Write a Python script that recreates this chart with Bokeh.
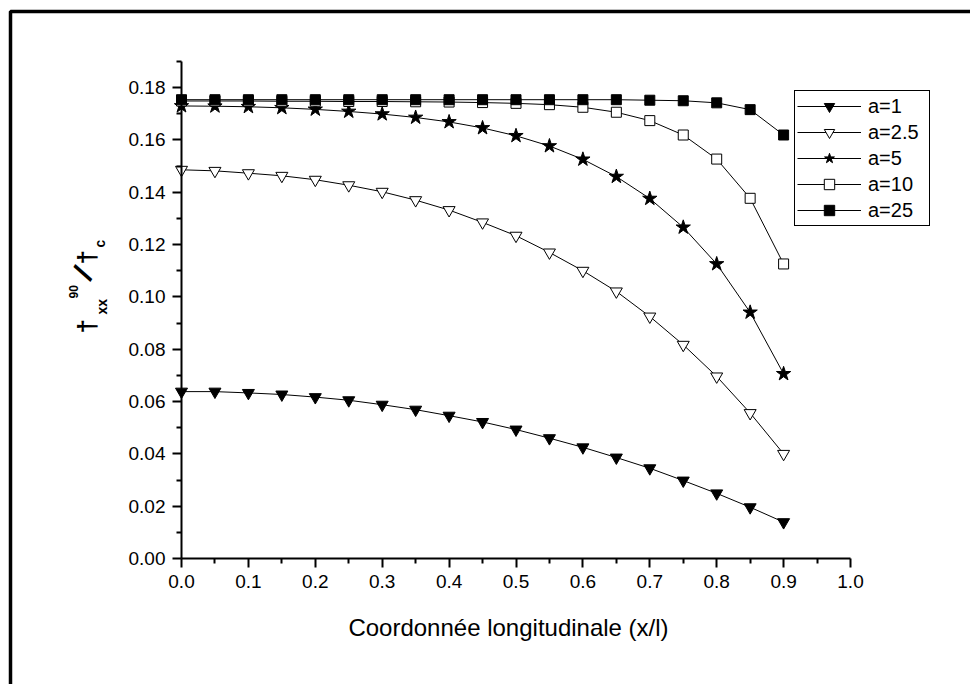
import math
from bokeh.plotting import figure
from bokeh.models import (Range1d, FixedTicker, NumeralTickFormatter, Legend, LegendItem,
                          Label, BoxAnnotation, ColumnDataSource)
from bokeh.embed import file_html
from bokeh.resources import INLINE

# ---------------- data ----------------
x_pos = [0.0, 0.05, 0.1, 0.15, 0.2, 0.25, 0.3, 0.35, 0.4, 0.45,
         0.5, 0.55, 0.6, 0.65, 0.7, 0.75, 0.8, 0.85, 0.9]
a1 = [0.0638, 0.0638, 0.0633, 0.0627, 0.0617, 0.0605, 0.0588, 0.0569, 0.0546, 0.0522,
      0.0493, 0.0460, 0.0425, 0.0386, 0.0345, 0.0298, 0.0249, 0.0196, 0.0139]
a2_5 = [0.1486, 0.1482, 0.1473, 0.1463, 0.1448, 0.1427, 0.1402, 0.1370, 0.1332, 0.1285,
        0.1234, 0.1170, 0.1100, 0.1021, 0.0925, 0.0817, 0.0696, 0.0556, 0.0400]
a5 = [0.1730, 0.1729, 0.1727, 0.1723, 0.1717, 0.1709, 0.1699, 0.1686, 0.1669, 0.1646,
      0.1616, 0.1577, 0.1526, 0.1460, 0.1376, 0.1266, 0.1126, 0.0941, 0.0706]
a10 = [0.1749, 0.1749, 0.1749, 0.1748, 0.1748, 0.1747, 0.1747, 0.1746, 0.1745, 0.1743,
       0.1740, 0.1735, 0.1725, 0.1706, 0.1674, 0.1619, 0.1527, 0.1377, 0.1126]
a25 = [0.1754, 0.1754, 0.1754, 0.1754, 0.1754, 0.1754, 0.1754, 0.1754, 0.1754, 0.1754,
       0.1754, 0.1754, 0.1754, 0.1754, 0.1752, 0.1750, 0.1742, 0.1716, 0.1619]
series_labels = ["a=1", "a=2.5", "a=5", "a=10", "a=25"]
x_ticks = [0.0, 0.1, 0.2, 0.3, 0.4, 0.5, 0.6, 0.7, 0.8, 0.9, 1.0]
x_minor = [0.05, 0.15, 0.25, 0.35, 0.45, 0.55, 0.65, 0.75, 0.85, 0.95]
y_ticks = [0.00, 0.02, 0.04, 0.06, 0.08, 0.10, 0.12, 0.14, 0.16, 0.18]
y_minor = [0.01, 0.03, 0.05, 0.07, 0.09, 0.11, 0.13, 0.15, 0.17, 0.19]
x_title = "Coordonnée longitudinale (x/l)"

FONT = "Liberation Sans"
W, H = 970, 684
# pixel placement of the axes inside the canvas
AX_L, AX_R, AX_B, AX_T = 181, 850, 558, 61
X0, X1 = 0.0, 1.0
Y0, Y1 = 0.0, 0.19
kx = (X1 - X0) / (AX_R - AX_L)
ky = (Y1 - Y0) / (AX_B - AX_T)
x_range = Range1d(X0 - AX_L * kx, X1 + (W - AX_R) * kx)
y_range = Range1d(Y0 - (H - AX_B) * ky, Y1 + AX_T * ky)

p = figure(width=W, height=H, output_backend="svg", toolbar_location=None,
           x_range=x_range, y_range=y_range, min_border=0)
p.outline_line_color = None
p.grid.visible = False
p.background_fill_color = "white"
p.border_fill_color = "white"

for ax in (p.xaxis[0], p.yaxis[0]):
    ax.fixed_location = 0
    ax.axis_line_width = 2
    ax.axis_line_color = "black"
    ax.major_tick_line_color = "black"
    ax.minor_tick_line_color = "black"
    ax.major_tick_line_width = 2
    ax.minor_tick_line_width = 2
    ax.major_tick_in = 0
    ax.major_tick_out = 9
    ax.minor_tick_in = 0
    ax.minor_tick_out = 5
    ax.major_label_text_font = FONT
    ax.major_label_text_font_size = "19px"
    ax.major_label_text_color = "black"
    ax.major_label_standoff = 7

p.xaxis[0].bounds = (X0, X1)
p.yaxis[0].bounds = (Y0, Y1)
p.xaxis[0].ticker = FixedTicker(ticks=x_ticks, minor_ticks=x_minor)
p.xaxis[0].formatter = NumeralTickFormatter(format="0.0")
p.yaxis[0].ticker = FixedTicker(ticks=y_ticks, minor_ticks=y_minor)
p.yaxis[0].formatter = NumeralTickFormatter(format="0.00")

src = ColumnDataSource(dict(x=x_pos, a1=a1, a2_5=a2_5, a5=a5, a10=a10, a25=a25))
specs = [
    ("a1", "inverted_triangle", "black", 12),
    ("a2_5", "inverted_triangle", "white", 12),
    ("a5", "star", "black", 15),
    ("a10", "square", "white", 10),
    ("a25", "square", "black", 10),
]
items = []
for (col, mk, fill, sz), lab in zip(specs, series_labels):
    ln = p.line("x", col, source=src, line_color="black", line_width=1)
    sc = p.scatter("x", col, source=src, marker=mk, size=sz, fill_color=fill,
                   line_color="black", line_width=1)
    items.append(LegendItem(label=lab, renderers=[ln, sc]))

legend = Legend(items=items, location=(794, H - 226))
legend.label_text_font = FONT
legend.label_text_font_size = "20px"
legend.label_text_color = "black"
legend.border_line_color = "black"
legend.border_line_width = 1.5
legend.border_line_alpha = 1
legend.padding = 2
legend.spacing = 0
legend.glyph_width = 64
legend.glyph_height = 26
legend.label_height = 20
legend.label_width = 59
legend.label_standoff = 7
legend.margin = 0
legend.background_fill_alpha = 1
p.add_layout(legend)

# x axis title
p.add_layout(Label(x=508, y=H - 627, x_units="screen", y_units="screen", text=x_title,
                   text_font=FONT, text_font_size="24px", text_align="center",
                   text_color="black", text_baseline="alphabetic"))

# y axis title (rotated, built from pieces): (text, canvas x, canvas y, size, style, angle, align, baseline)
rot = math.pi / 2
ylab_parts = [
    ("\u2020", 86, 333, "26px", "bold", rot, "left", "alphabetic"),
    ("xx", 101, 314, "14px", "bold", rot, "left", "alphabetic"),
    ("90", 73, 298, "12px", "bold", rot, "left", "alphabetic"),
    ("/", 82.5, 272.5, "30px", "bold", rot - 0.54, "center", "middle"),
    ("\u2020", 86, 264, "26px", "bold", rot, "left", "alphabetic"),
    ("c", 99, 247, "14px", "bold", rot, "left", "alphabetic"),
]
for txt, cx, cy, fs, fw, ang, al, bl in ylab_parts:
    p.add_layout(Label(x=cx, y=H - cy, x_units="screen", y_units="screen", text=txt,
                       angle=ang, text_font=FONT, text_font_size=fs, text_font_style=fw,
                       text_color="black", text_align=al, text_baseline=bl))

# outer frame of the figure (left and top edges visible)
p.add_layout(BoxAnnotation(left=10, right=W + 100, top=H - 11, bottom=-100,
                           left_units="screen", right_units="screen",
                           top_units="screen", bottom_units="screen",
                           fill_color=None, fill_alpha=0, line_color="black",
                           line_alpha=1, line_width=3.5))

open("out.html", "w").write(file_html(p, INLINE))
